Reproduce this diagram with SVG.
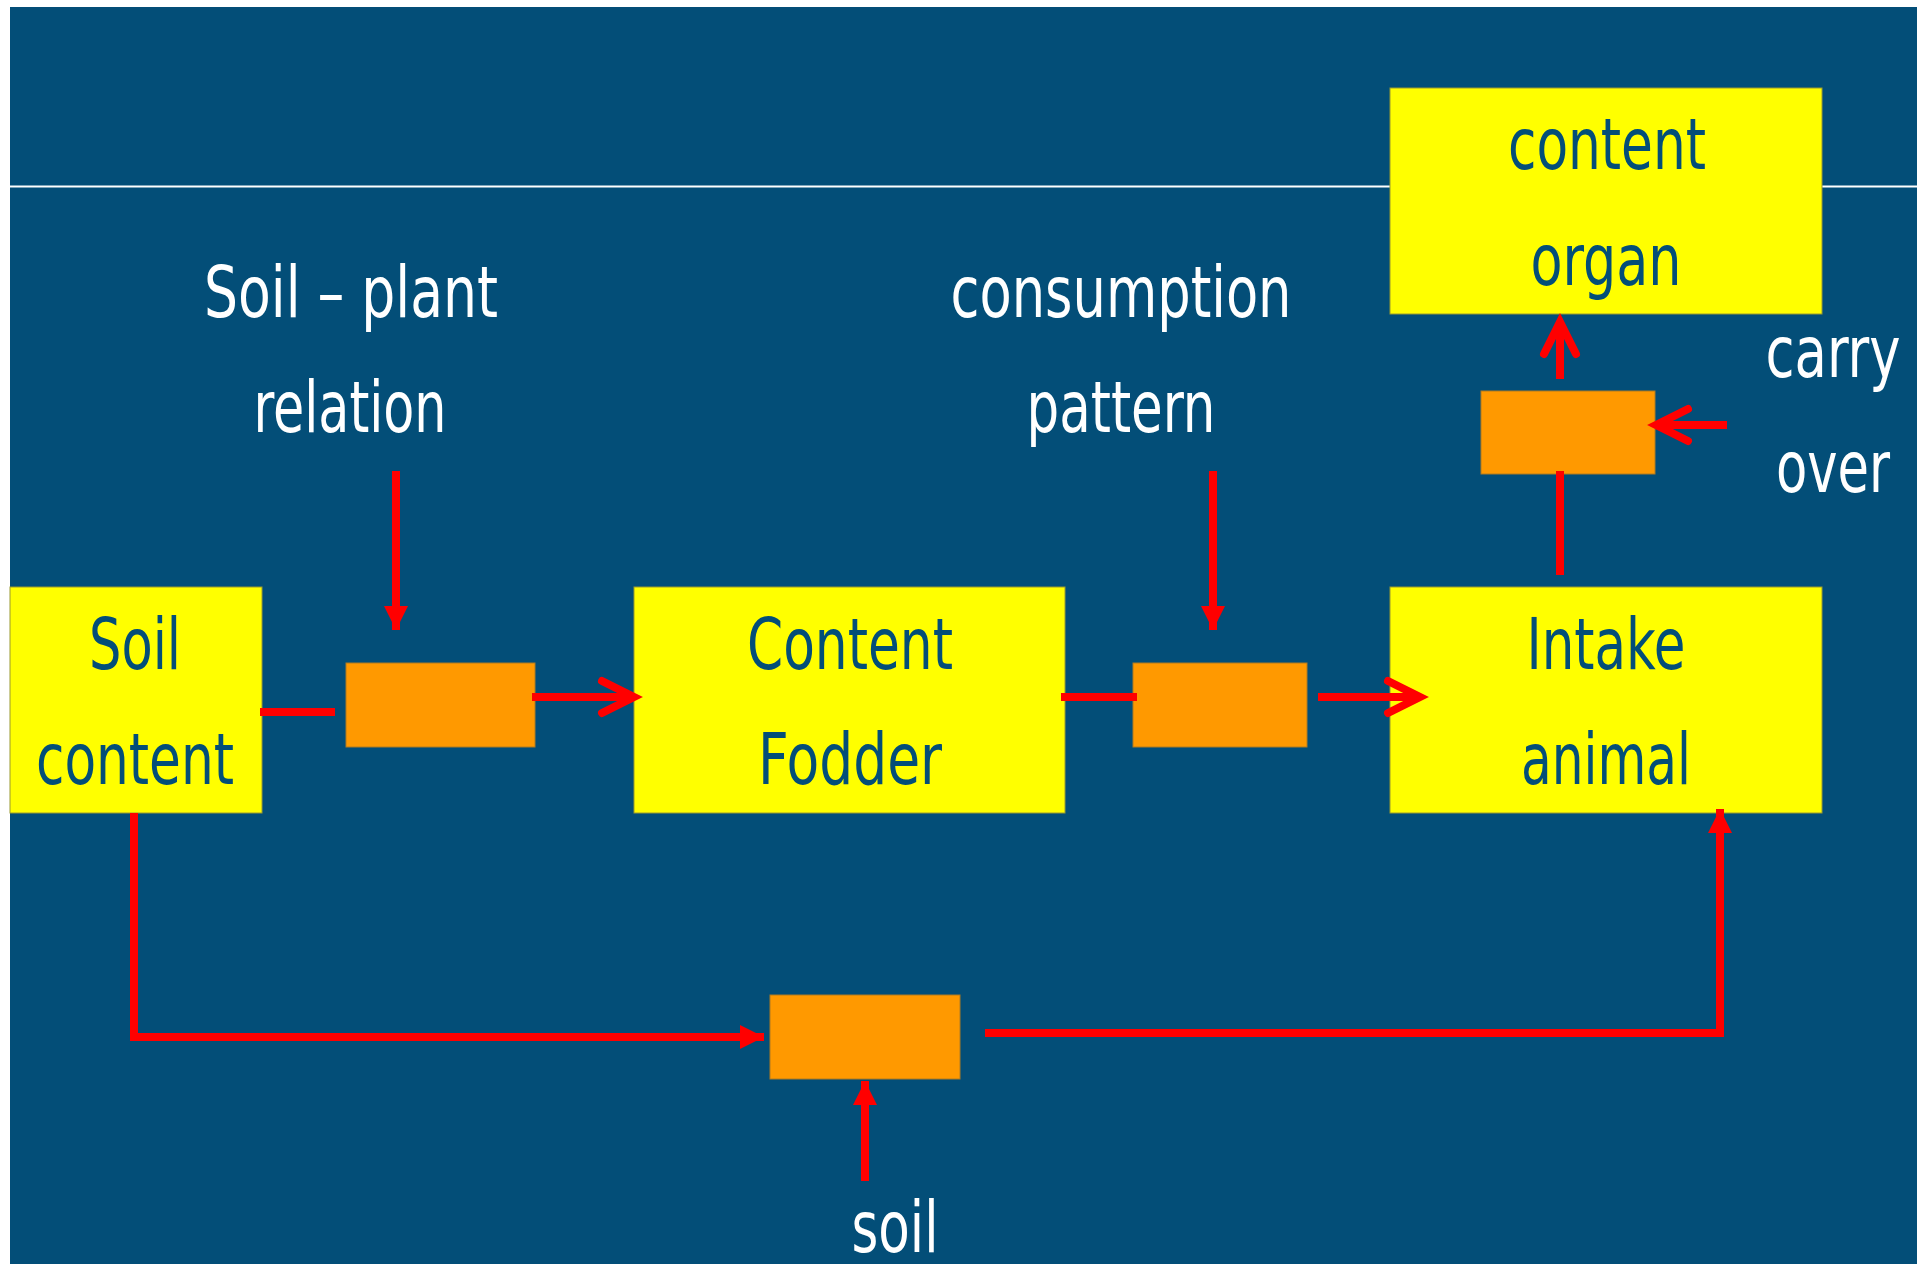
<svg xmlns="http://www.w3.org/2000/svg" width="1917" height="1264" viewBox="0 0 1917 1264">
  <style>
    .box{fill:#FFFF00;stroke:#9a9a30;stroke-width:1}
    .op{fill:#FF9900;stroke:#b07a20;stroke-width:1}
    .bt{font-family:"Liberation Sans Narrow","DejaVu Sans Condensed","Liberation Sans",sans-serif;font-size:71px;fill:#034E78;text-anchor:middle}
    .wt{font-family:"Liberation Sans Narrow","DejaVu Sans Condensed","Liberation Sans",sans-serif;font-size:71px;fill:#FFFFFF;text-anchor:middle}
    .ln{fill:none;stroke:#FF0000;stroke-width:8}
  </style>
  <defs>
    <marker id="tri" viewBox="0 0 24 24" refX="24" refY="12" markerWidth="24" markerHeight="24" markerUnits="userSpaceOnUse" orient="auto">
      <path d="M0,0 L24,12 L0,24 Z" fill="#FF0000"/>
    </marker>
    <marker id="chev" viewBox="-6 -22 44 44" refX="32" refY="0" markerWidth="44" markerHeight="44" markerUnits="userSpaceOnUse" orient="auto" overflow="visible">
      <path d="M0,-16 L32,0 L0,16" fill="none" stroke="#FF0000" stroke-width="8" stroke-linecap="round" stroke-linejoin="miter"/>
    </marker>
  </defs>

  <rect x="0" y="0" width="1917" height="1264" fill="#FFFFFF"/>
  <rect x="10" y="7" width="1907" height="1257" fill="#034E78"/>
  <line x1="10" y1="186.5" x2="1917" y2="186.5" stroke="#FFFFFF" stroke-width="2"/>

  <g id="soil-content">
    <rect class="box" x="10" y="587" width="252" height="226"/>
    <text class="bt" x="135" y="669" textLength="92" lengthAdjust="spacingAndGlyphs">Soil</text>
    <text class="bt" x="135" y="784" textLength="198" lengthAdjust="spacingAndGlyphs">content</text>
  </g>
  <g id="content-fodder">
    <rect class="box" x="634" y="587" width="431" height="226"/>
    <text class="bt" x="850" y="669" textLength="206" lengthAdjust="spacingAndGlyphs">Content</text>
    <text class="bt" x="850" y="784" textLength="184" lengthAdjust="spacingAndGlyphs">Fodder</text>
  </g>
  <g id="intake-animal">
    <rect class="box" x="1390" y="587" width="432" height="226"/>
    <text class="bt" x="1606" y="669" textLength="159" lengthAdjust="spacingAndGlyphs">Intake</text>
    <text class="bt" x="1606" y="784" textLength="170" lengthAdjust="spacingAndGlyphs">animal</text>
  </g>
  <g id="content-organ">
    <rect class="box" x="1390" y="88" width="432" height="226"/>
    <text class="bt" x="1607" y="169" textLength="198" lengthAdjust="spacingAndGlyphs">content</text>
    <text class="bt" x="1606" y="285" textLength="151" lengthAdjust="spacingAndGlyphs">organ</text>
  </g>

  <g id="proc-soil-plant"><rect class="op" x="346" y="663" width="189" height="84"/></g>
  <g id="proc-consumption"><rect class="op" x="1133" y="663" width="174" height="84"/></g>
  <g id="proc-carry-over"><rect class="op" x="1481" y="391" width="174" height="83"/></g>
  <g id="proc-soil"><rect class="op" x="770" y="995" width="190" height="84"/></g>

  <g id="label-soil-plant">
    <text class="wt" x="351" y="317" textLength="294" lengthAdjust="spacingAndGlyphs">Soil – plant</text>
    <text class="wt" x="350" y="432" textLength="193" lengthAdjust="spacingAndGlyphs">relation</text>
  </g>
  <g id="label-consumption">
    <text class="wt" x="1121" y="317" textLength="341" lengthAdjust="spacingAndGlyphs">consumption</text>
    <text class="wt" x="1121" y="432" textLength="189" lengthAdjust="spacingAndGlyphs">pattern</text>
  </g>
  <g id="label-carry-over">
    <text class="wt" x="1833" y="377" textLength="135" lengthAdjust="spacingAndGlyphs">carry</text>
    <text class="wt" x="1833" y="492" textLength="114" lengthAdjust="spacingAndGlyphs">over</text>
  </g>
  <g id="label-soil">
    <text class="wt" x="895" y="1252" textLength="87" lengthAdjust="spacingAndGlyphs">soil</text>
  </g>

  <g id="connectors">
    <path class="ln" d="M260,712 H335"/>
    <path class="ln" d="M532,697 H634" marker-end="url(#chev)"/>
    <path class="ln" d="M396,471 V630" marker-end="url(#tri)"/>
    <path class="ln" d="M1061,697 H1137"/>
    <path class="ln" d="M1318,697 H1420" marker-end="url(#chev)"/>
    <path class="ln" d="M1213,471 V630" marker-end="url(#tri)"/>
    <path class="ln" d="M1560,575 V471"/>
    <path class="ln" d="M1560,379 V322" marker-end="url(#chev)"/>
    <path class="ln" d="M1727,425 H1656" marker-end="url(#chev)"/>
    <path class="ln" d="M134,813 V1037 H764" marker-end="url(#tri)"/>
    <path class="ln" d="M985,1033 H1720 V809" marker-end="url(#tri)"/>
    <path class="ln" d="M865,1181 V1081" marker-end="url(#tri)"/>
  </g>
</svg>
